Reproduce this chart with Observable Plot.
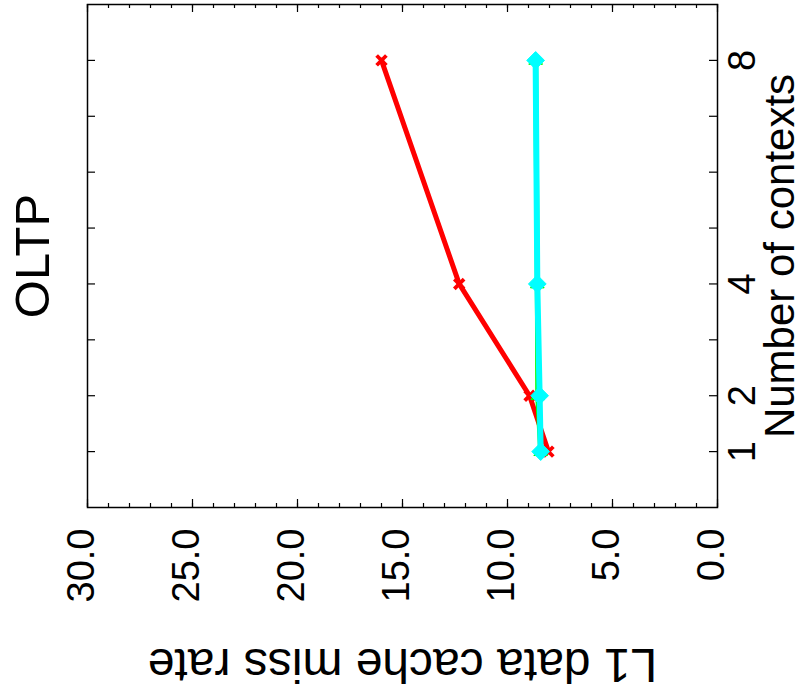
<!DOCTYPE html>
<html>
<head>
<meta charset="utf-8">
<script src="https://cdn.jsdelivr.net/npm/d3@7"></script>
<script src="https://cdn.jsdelivr.net/npm/@observablehq/plot@0.6"></script>
<style>
  html, body { margin: 0; padding: 0; background: #fff; }
  #chart svg { display: block; }
</style>
</head>
<body>
<div id="chart"></div>
<script>
// ---- data ----
const title = "OLTP";
const xLabel = "Number of contexts";
const yLabel = "L1 data cache miss rate";
const contexts = [1, 2, 4, 8];
const redRate = [8.05, 8.95, 12.3, 16.0];
const greenRate = [8.42, 8.56, 8.58, 8.66];
const cyanRate = [8.42, 8.47, 8.58, 8.66];
const rateMajorTicks = [0, 5, 10, 15, 20, 25, 30];
const rateTickLabels = ["0.0", "5.0", "10.0", "15.0", "20.0", "25.0", "30.0"];
const rateMinorTicks = d3.range(0, 31, 1);
const contextTicks = [1, 2, 3, 4, 5, 6, 7, 8];
const contextTickLabels = [1, 2, 4, 8];

const rows = (vals) => contexts.map((c, i) => ({c, v: vals[i]}));
const red = rows(redRate), green = rows(greenRate), cyan = rows(cyanRate);
const majors = rateMajorTicks.map((v, i) => ({v, label: rateTickLabels[i]}));

const W = 803, H = 698;
const mL = 87, mR = 86, mT = 4, mB = 191;
const fw = W - mL - mR, fh = H - mT - mB;
const font = "'Liberation Sans', Arial, Helvetica, sans-serif";

const chart = Plot.plot({
  width: W, height: H,
  marginLeft: mL, marginRight: mR, marginTop: mT, marginBottom: mB,
  style: {fontFamily: font, background: "#fff", color: "#000"},
  x: {domain: [30, 0], axis: null},
  y: {domain: [0, 9], axis: null},
  marks: [
    Plot.frame({stroke: "#000", strokeWidth: 1.5}),
    // miss-rate ticks (bottom and top, major + minor)
    Plot.tickX(rateMinorTicks, {x: d => d, insetTop: fh - 4, stroke: "#000", strokeWidth: 1.2}),
    Plot.tickX(rateMinorTicks, {x: d => d, insetBottom: fh - 4, stroke: "#000", strokeWidth: 1.2}),
    Plot.tickX(rateMajorTicks, {x: d => d, insetTop: fh - 8, stroke: "#000", strokeWidth: 1.2}),
    Plot.tickX(rateMajorTicks, {x: d => d, insetBottom: fh - 8, stroke: "#000", strokeWidth: 1.2}),
    // context ticks (left and right)
    Plot.tickY(contextTicks, {y: d => d, insetRight: fw - 8, stroke: "#000", strokeWidth: 1.2}),
    Plot.tickY(contextTicks, {y: d => d, insetLeft: fw - 8, stroke: "#000", strokeWidth: 1.2}),
    // tick labels
    Plot.text(majors, {x: "v", text: "label", frameAnchor: "bottom", rotate: -90,
      textAnchor: "end", lineAnchor: "bottom", dx: 6, dy: 21, fontSize: 38, fill: "#000"}),
    Plot.text(contextTickLabels, {y: d => d, text: d => String(d), frameAnchor: "right", rotate: -90,
      textAnchor: "middle", lineAnchor: "bottom", dx: 37, fontSize: 38, fill: "#000"}),
    // axis labels and title
    Plot.text([xLabel], {text: d => d, frameAnchor: "right", rotate: -90,
      textAnchor: "middle", lineAnchor: "bottom", dx: 76, fontSize: 42, fill: "#000"}),
    Plot.text([yLabel], {text: d => d, frameAnchor: "bottom", rotate: 180,
      textAnchor: "middle", lineAnchor: "bottom", dy: 141, fontSize: 48, fill: "#000"}),
    Plot.text([title], {text: d => d, frameAnchor: "left", rotate: -90,
      textAnchor: "middle", lineAnchor: "bottom", dx: -39, fontSize: 49, fill: "#000"}),
    // series
    Plot.line(red, {x: "v", y: "c", stroke: "#ff0000", strokeWidth: 5}),
    Plot.dot(red, {x: "v", y: "c", symbol: "times", r: 4.5, stroke: "#ff0000", strokeWidth: 3.8}),
    Plot.line(green, {x: "v", y: "c", stroke: "#00ff00", strokeWidth: 5}),
    Plot.dot(green, {x: "v", y: "c", symbol: "triangle2", r: 6.5, fill: "#00ff00", stroke: "#00ff00", strokeWidth: 1}),
    Plot.line(cyan, {x: "v", y: "c", stroke: "#00ffff", strokeWidth: 6}),
    Plot.dot(cyan, {x: "v", y: "c", symbol: "diamond2", r: 8, fill: "#00ffff", stroke: "#00ffff", strokeWidth: 1})
  ]
});
document.getElementById("chart").appendChild(chart);
</script>
</body>
</html>
